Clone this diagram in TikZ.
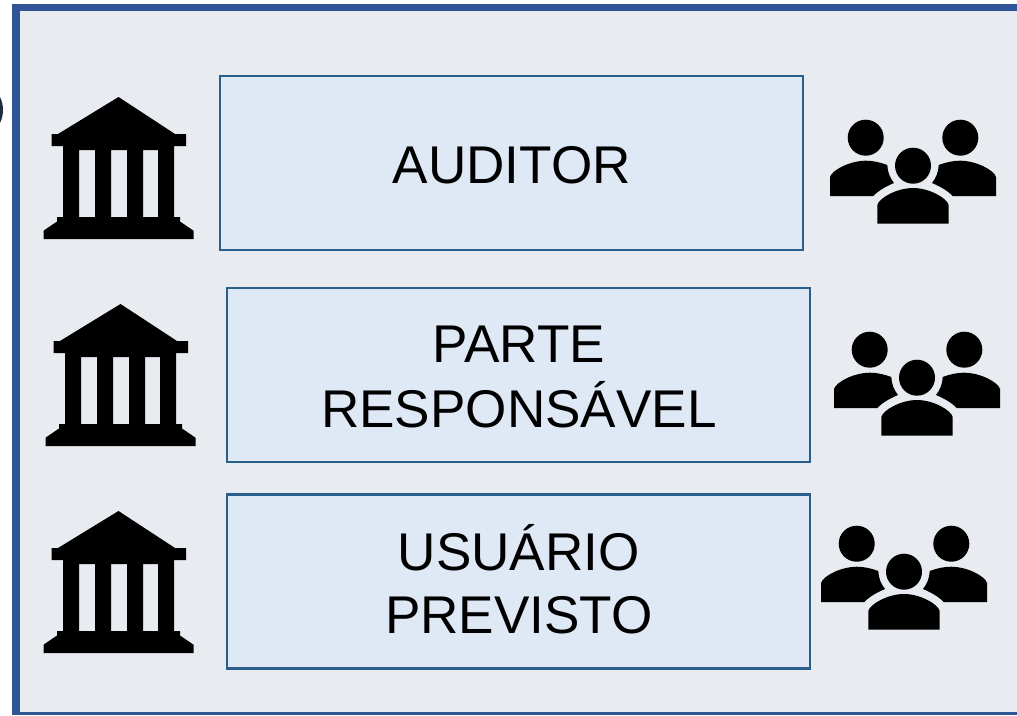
\documentclass[tikz,border=0pt]{standalone}
\usepackage{fontspec}
\setmainfont{Liberation Sans}
\definecolor{framecol}{HTML}{2F5597}
\definecolor{panelcol}{HTML}{E8EBF0}
\definecolor{boxfill}{HTML}{DEE9F5}
\definecolor{boxedge}{HTML}{2A5F8C}
\definecolor{arccol}{HTML}{1F2A44}
\newcommand{\liftedtext}[2]{\hspace{1.2pt}\raisebox{#1}[0pt][0pt]{\begin{tabular}{@{}c@{}}#2\end{tabular}}}
\tikzset{
  rolebox/.style={draw=boxedge,fill=boxfill,line width=2.4pt,minimum width=583pt,minimum height=174pt,
    inner sep=0pt,outer sep=0pt,align=center,font=\fontsize{53.1}{63}\selectfont,text=black},
  temple/.pic={
    \fill[black,even odd rule]
      (118.5,97) -- (175,134) -- (186,134) -- (186,146) -- (174,146) -- (174,217) -- (180,217)
      -- (180,221.5) -- (193.5,230.7) -- (193.5,239) -- (43.5,239) -- (43.5,230.7) -- (57,221.5) -- (57,217)
      -- (63,217) -- (63,146) -- (51.5,146) -- (51.5,134) -- (58,134) -- cycle
      (79,150) rectangle (95,217)
      (111,150) rectangle (127,217)
      (143,150) rectangle (158,217);
  },
  people/.pic={
    \fill[black] (865.7,137.7) circle[radius=18];
    \fill[black] (960.3,137.7) circle[radius=18];
    \fill[black] (913,165.7) circle[radius=18];
    \fill[black] (830,196) -- (830,177) .. controls (832,170) and (850,160.7) .. (866,160.7)
      .. controls (873,160.7) and (881,162.5) .. (887.3,165)
      .. controls (887.5,172) and (890,178) .. (894,183)
      .. controls (887,186) and (879,190) .. (873.3,196) -- cycle;
    \fill[black] (996,196) -- (996,177) .. controls (994,170) and (976,160.7) .. (960,160.7)
      .. controls (953,160.7) and (945,162.5) .. (938.7,165)
      .. controls (938.5,172) and (936,178) .. (932,183)
      .. controls (939,186) and (947,190) .. (952.7,196) -- cycle;
    \fill[black] (877.3,223.5) -- (877.3,205) .. controls (879,198) and (897,188) .. (913,188)
      .. controls (929,188) and (947,198) .. (948.7,205) -- (948.7,223.5) -- cycle;
  }
}
\begin{document}
\begin{tikzpicture}[x=1pt,y=-1pt]
\useasboundingbox (0,0) rectangle (1017,715);
\fill[white] (0,0) rectangle (1017,715);
\fill[arccol] (0,97) .. controls (4,105) and (4,115) .. (0,123) -- cycle;
\fill[framecol] (12,3.5) rectangle (1017,715);
\fill[panelcol] (20,11) rectangle (1017,712);
\node[rolebox] (auditor) at (511.25,162.75) {\liftedtext{-14pt}{AUDITOR}};
\node[rolebox] (parte) at (518.25,374.75) {\liftedtext{-14.3pt}{PARTE\\RESPONSÁVEL}};
\node[rolebox] (usuario) at (518.25,581.5) {\liftedtext{-13pt}{USUÁRIO\\PREVISTO}};
\pic at (0,0) {temple};
\pic at (2,207) {temple};
\pic at (0,414) {temple};
\pic at (0,0) {people};
\pic at (4,212) {people};
\pic at (-9,406) {people};
\end{tikzpicture}
\end{document}
